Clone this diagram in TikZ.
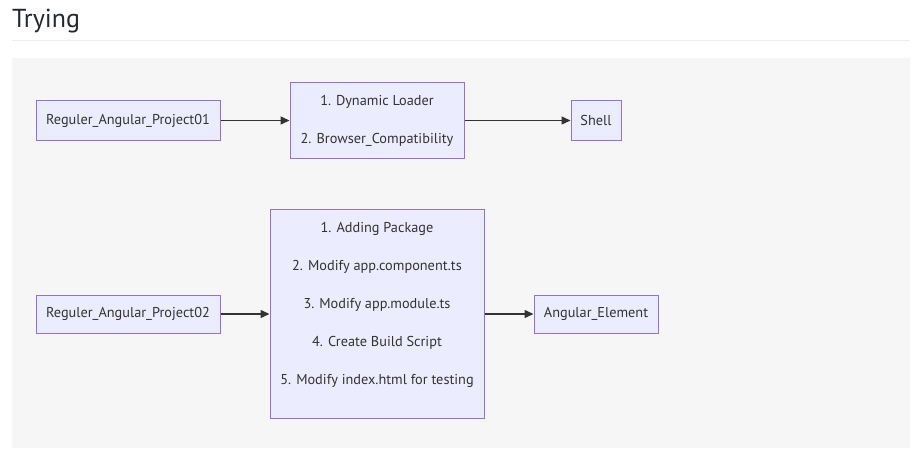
\documentclass[tikz,border=0pt]{standalone}
\usepackage{fontspec}
\setmainfont{PT Sans}
\usetikzlibrary{arrows.meta}
\definecolor{boxfill}{HTML}{ECECFF}
\definecolor{boxline}{HTML}{9370DB}
\definecolor{inkgray}{HTML}{333333}
\definecolor{panelgray}{HTML}{F6F6F6}
\definecolor{rulegray}{HTML}{EAECEF}
\definecolor{titleink}{HTML}{24292E}
\begin{document}
\begin{tikzpicture}[x=1pt,y=-1pt,
    stepbox/.style={draw=boxline,fill=boxfill,line width=1pt,text=inkgray,
      font=\fontsize{14.3}{38}\selectfont,align=center,inner sep=0pt},
    link/.style={draw=inkgray,line width=1.5pt,-{Triangle[length=9pt,width=8pt]}}]
        \useasboundingbox (0,0) rectangle (922,460);

        % heading and panel
        \node[anchor=base west,inner sep=0pt,text=titleink,font=\fontsize{26}{30}\selectfont] (title) at (12,28) {Trying};
        \draw[rulegray,line width=1pt] (12,41) -- (910,41);
        \fill[panelgray] (12,58) rectangle (910,448);

        % first row
        \node[stepbox,minimum width=184,minimum height=39] (proj1) at (128,120.5) {Reguler\_Angular\_Project01};
        \node[stepbox,minimum width=174,minimum height=76] (loader) at (377,120.5) {1. Dynamic Loader\\2. Browser\_Compatibility};
        \node[stepbox,minimum width=50,minimum height=39] (shell) at (596,120.5) {Shell};

        \draw[link] (proj1.east) -- (loader.west);
        \draw[link] (loader.east) -- (shell.west);

        % second row
        \node[stepbox,minimum width=184,minimum height=38] (proj2) at (128,314) {Reguler\_Angular\_Project02};
        \node[stepbox,minimum width=214,minimum height=209] (steps) at (377,313.5) {};
        \node[stepbox,draw=none,fill=none] (stepstext) at (377,305) {1. Adding Package\\2. Modify app.component.ts\\3. Modify app.module.ts\\4. Create Build Script\\5. Modify index.html for testing};
        \node[stepbox,minimum width=124,minimum height=38] (element) at (596,314) {Angular\_Element};

        \draw[link] (proj2.east) -- (steps.west |- proj2.east);
        \draw[link] (steps.east |- element.west) -- (element.west);

\end{tikzpicture}
\end{document}
